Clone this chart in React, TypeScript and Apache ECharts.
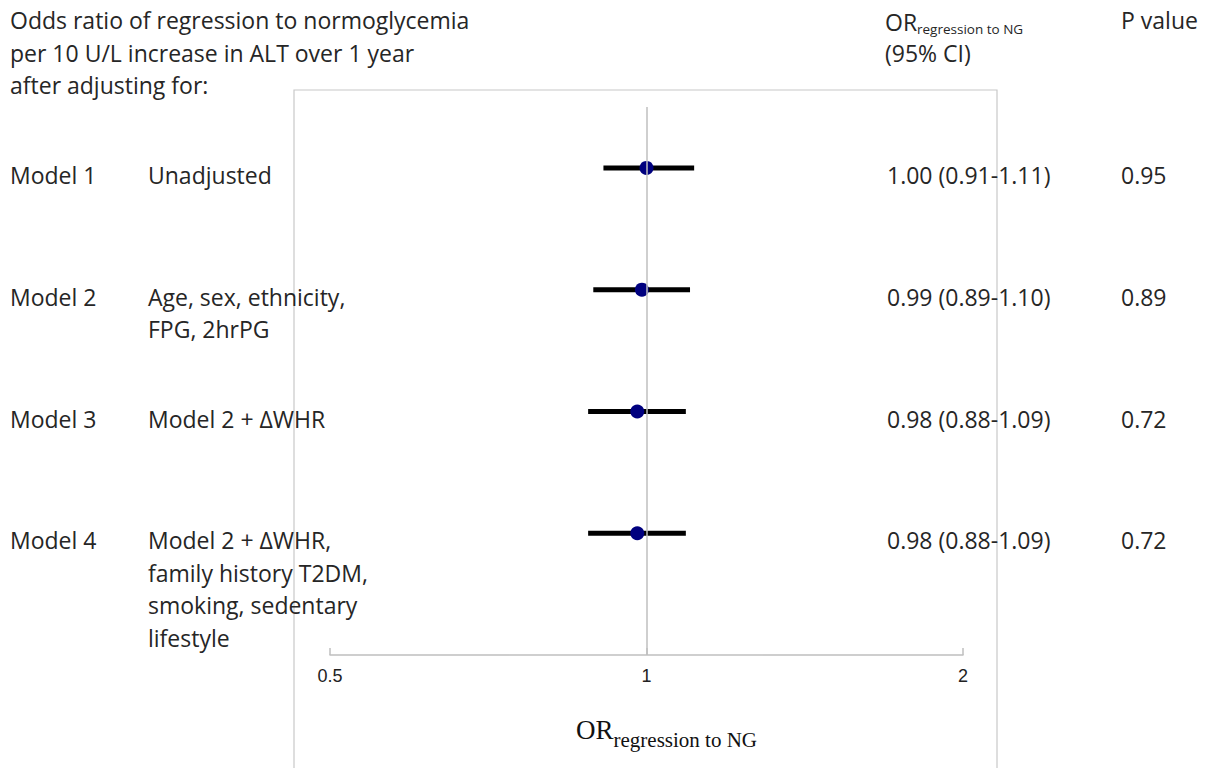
import React, { useEffect, useRef } from "react";
import * as echarts from "echarts";

const models = ["Model 1", "Model 2", "Model 3", "Model 4"];
const adjustments = [
  ["Unadjusted"],
  ["Age, sex, ethnicity,", "FPG, 2hrPG"],
  ["Model 2 + \u0394WHR"],
  ["Model 2 + \u0394WHR,", "family history T2DM,", "smoking, sedentary", "lifestyle"],
];
const orValues = [1.0, 0.99, 0.98, 0.98];
const ciLow = [0.91, 0.89, 0.88, 0.88];
const ciHigh = [1.11, 1.1, 1.09, 1.09];
const ciText = ["1.00 (0.91-1.11)", "0.99 (0.89-1.10)", "0.98 (0.88-1.09)", "0.98 (0.88-1.09)"];
const pValues = ["0.95", "0.89", "0.72", "0.72"];
const xTicks = [0.5, 1, 2];
const titleLines = [
  "Odds ratio of regression to normoglycemia",
  "per 10 U/L increase in ALT over 1 year",
  "after adjusting for:",
];

const FONT = "Open Sans";
const FS = 23;
const TXT = "#262626";

export default function App() {
  const ref = useRef<HTMLDivElement>(null);
  useEffect(() => {
    const chart = echarts.init(ref.current!, null, { renderer: "svg" });
    const rowY0 = 168;
    const rowStep = 121.8;
    const lineH = 32.5;
    const graphics: any[] = [];
    const txt = (x: number, y: number, text: string, fs: number = FS) => ({
      type: "text",
      x,
      y,
      style: { text, font: `${fs}px ${FONT}`, fill: TXT, verticalAlign: "middle" },
    });
    graphics.push({
      type: "rect",
      z: -1,
      shape: { x: 294, y: 90, width: 703, height: 700 },
      style: { fill: "none", stroke: "#c8c8c8", lineWidth: 1.2 },
    });
    titleLines.forEach((t, i) => graphics.push(txt(10, 20 + i * lineH, t)));
    graphics.push(txt(885, 22, "OR"));
    graphics.push(txt(917, 29, "regression to NG", 13.5));
    graphics.push(txt(885, 53, "(95% CI)"));
    graphics.push(txt(1121, 20, "P value"));
    models.forEach((m, i) => {
      const y = rowY0 + i * rowStep + 7;
      graphics.push(txt(10, y, m));
      adjustments[i].forEach((a, j) => graphics.push(txt(148, y + j * lineH, a)));
      graphics.push(txt(887, y, ciText[i]));
      graphics.push(txt(1121, y, pValues[i]));
    });

    const ciData = orValues.map((_, i) => [ciLow[i], ciHigh[i], i + 1]);
    const pointData = orValues.map((v, i) => [v, i + 1]);

    chart.setOption({
      animation: false,
      grid: { left: 330, right: 252, top: 107, bottom: 113 },
      xAxis: {
        type: "log",
        logBase: 2,
        min: 0.5,
        max: 2,
        axisLine: { lineStyle: { color: "#bfbfbf", width: 1.5 } },
        axisTick: { show: true, inside: true, length: 7, lineStyle: { color: "#bfbfbf", width: 1.5 } },
        splitLine: { show: false },
        axisLabel: {
          margin: 12,
          fontFamily: "Liberation Sans Narrow, Liberation Sans",
          fontSize: 18,
          color: "#222",
          formatter: (v: number) => (xTicks.some((t) => Math.abs(t - v) < 1e-6) ? String(v) : ""),
        },
        name: "{a|OR}{b|regression to NG}",
        nameLocation: "middle",
        nameGap: 56,
        nameTextStyle: {
          padding: [0, 0, 0, 40],
          rich: {
            a: { fontFamily: "Liberation Serif", fontSize: 27, color: "#111", lineHeight: 32, verticalAlign: "bottom" },
            b: { fontFamily: "Liberation Serif", fontSize: 21, color: "#111", lineHeight: 32, height: 6, verticalAlign: "bottom" },
          },
        },
      },
      yAxis: {
        type: "value",
        min: 0.5,
        max: 5,
        inverse: true,
        show: false,
      },
      graphic: graphics,
      series: [
        {
          type: "custom",
          data: ciData,
          encode: { x: [0, 1], y: 2 },
          renderItem: (params: any, api: any) => {
            const p1 = api.coord([api.value(0), api.value(2)]);
            const p2 = api.coord([api.value(1), api.value(2)]);
            return {
              type: "line",
              shape: { x1: p1[0], y1: p1[1], x2: p2[0], y2: p2[1] },
              style: { stroke: "#000", lineWidth: 5 },
            };
          },
          z: 2,
        },
        {
          type: "scatter",
          data: pointData,
          symbolSize: 14,
          itemStyle: { color: "#00007f", opacity: 1 },
          z: 3,
          markLine: {
            silent: true,
            symbol: "none",
            label: { show: false },
            lineStyle: { color: "#bfbfbf", width: 1.5, type: "solid" },
            data: [{ xAxis: 1 }],
          },
        },
      ],
    });
    return () => chart.dispose();
  }, []);
  return (
    <div
      ref={ref}
      style={{ position: "absolute", left: 0, top: 0, width: 1215, height: 768, background: "#fff" }}
    />
  );
}
